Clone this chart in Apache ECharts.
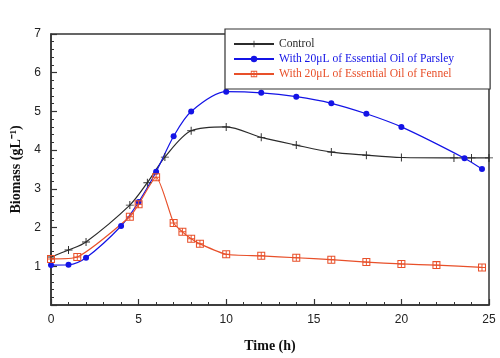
<!DOCTYPE html>
<html>
<head>
<meta charset="utf-8">
<script src="https://cdn.jsdelivr.net/npm/echarts@6/dist/echarts.min.js"></script>
<style>
  html, body { margin: 0; padding: 0; background: #fff; }
  #chart { width: 500px; height: 358px; }
</style>
</head>
<body>
<div id="chart"></div>
<script>
// values
const controlTime = [0, 1, 2, 4.5, 5.5, 6.5, 8, 10, 12, 14, 16, 18, 20, 23, 24, 25]
const controlBiomass = [1.24, 1.42, 1.63, 2.58, 3.16, 3.82, 4.5, 4.6, 4.33, 4.13, 3.95, 3.87, 3.81, 3.8, 3.8, 3.8]

const parsleyTime = [0, 1, 2, 4, 5, 6, 7, 8, 10, 12, 14, 16, 18, 20, 23.6, 24.6]
const parsleyBiomass = [1.03, 1.04, 1.22, 2.04, 2.66, 3.44, 4.36, 5.0, 5.51, 5.48, 5.38, 5.21, 4.94, 4.6, 3.79, 3.51]

const fennelTime = [0, 1.5, 4.5, 5, 6, 7, 7.5, 8, 8.5, 10, 12, 14, 16, 18, 20, 22, 24.6]
const fennelBiomass = [1.19, 1.24, 2.28, 2.6, 3.3, 2.12, 1.89, 1.71, 1.58, 1.31, 1.27, 1.22, 1.17, 1.11, 1.06, 1.03, 0.97]

const seriesNames = [
  'Control',
  'With 20μL of Essential Oil of Parsley',
  'With 20μL of Essential Oil of Fennel'
]

const zip = (xs, ys) => xs.map((x, i) => [x, ys[i]])

// marker shapes
const plusSymbol = 'path://M4.4,0H5.6V10H4.4Z M0,4.4H10V5.6H0Z'
const boxSymbol = 'path://M0,0H10V10H0Z M1.3,1.3V8.7H8.7V1.3Z M4.4,1.3H5.6V8.7H4.4Z M1.3,4.4H8.7V5.6H1.3Z'

const black = '#2b2b2b'
const blue = '#1414e6'
const orange = '#e8502a'

const chart = echarts.init(document.getElementById('chart'))

const axisCommon = {
  axisLine: { show: true, onZero: false, lineStyle: { color: '#333', width: 1.5 } },
  axisTick: { show: true, inside: true, length: 6, lineStyle: { color: '#333', width: 1.2 } },
  minorTick: { show: true, splitNumber: 5, length: 3, lineStyle: { color: '#333', width: 1 } },
  splitLine: { show: false },
  axisLabel: { color: '#222', fontFamily: 'Liberation Sans', fontSize: 12 }
}

chart.setOption({
  animation: false,
  grid: {
    left: 51, right: 11, top: 34, bottom: 53,
    show: true, borderColor: '#333', borderWidth: 1.5
  },
  legend: {
    data: seriesNames.map((n, i) => ({ name: n, textStyle: { color: [black, blue, orange][i] } })),
    orient: 'vertical',
    left: 225, top: 29,
    itemWidth: 40, itemHeight: 8, itemGap: 3,
    padding: [9, 36, 9, 8],
    backgroundColor: '#fff',
    borderColor: '#333', borderWidth: 1.2,
    textStyle: { fontFamily: 'Liberation Serif', fontSize: 11.6 }
  },
  xAxis: {
    type: 'value',
    min: 0, max: 25, interval: 5,
    name: 'Time (h)',
    nameLocation: 'middle',
    nameGap: 34,
    nameTextStyle: { fontFamily: 'Liberation Serif', fontWeight: 'bold', fontSize: 14, color: '#111' },
    ...axisCommon,
    axisLabel: { ...axisCommon.axisLabel, margin: 9 }
  },
  yAxis: {
    type: 'value',
    min: 0, max: 7, interval: 1,
    name: 'Biomass (gL\u207B\u00B9)',
    nameLocation: 'middle',
    nameGap: 26,
    nameTextStyle: { fontFamily: 'Liberation Serif', fontWeight: 'bold', fontSize: 14, color: '#111' },
    ...axisCommon,
    axisLabel: {
      ...axisCommon.axisLabel,
      margin: 10,
      formatter: v => (v === 0 ? '' : v)
    }
  },
  series: [
    {
      name: seriesNames[0],
      type: 'line',
      data: zip(controlTime, controlBiomass),
      smooth: 0.3,
      symbol: plusSymbol,
      symbolSize: 8,
      lineStyle: { color: black, width: 1.2 },
      itemStyle: { color: black }
    },
    {
      name: seriesNames[1],
      type: 'line',
      data: zip(parsleyTime, parsleyBiomass),
      smooth: 0.3,
      symbol: 'circle',
      symbolSize: 6,
      lineStyle: { color: blue, width: 1.2 },
      itemStyle: { color: blue }
    },
    {
      name: seriesNames[2],
      type: 'line',
      data: zip(fennelTime, fennelBiomass),
      smooth: 0.2,
      symbol: boxSymbol,
      symbolSize: 8,
      lineStyle: { color: orange, width: 1.2 },
      itemStyle: { color: orange }
    }
  ]
})
</script>
</body>
</html>
